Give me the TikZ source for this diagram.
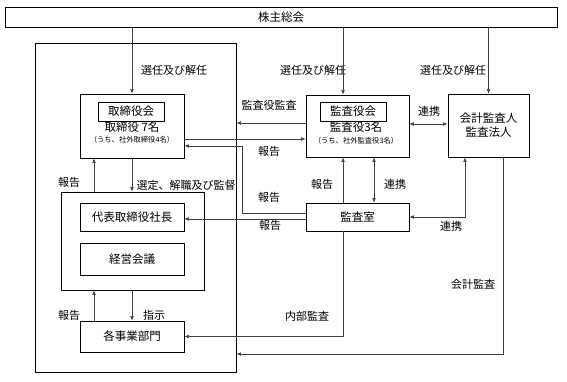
\documentclass[tikz,border=0pt]{standalone}
\usepackage{fontspec}
\setmainfont{Noto Sans CJK JP}
\usetikzlibrary{arrows.meta,positioning}

\begin{document}
\begin{tikzpicture}[
    x=1pt, y=-1pt,
    box/.style={draw, rectangle, line width=0.7pt, inner sep=0pt, align=center,
                font=\fontsize{11.5}{14}\selectfont},
    lbl/.style={inner sep=0pt, font=\fontsize{11}{12}\selectfont},
    small/.style={inner sep=0pt, font=\fontsize{7.3}{8}\selectfont},
    arrow/.style={-{Latex[length=1.6mm, width=1.3mm]}, line width=0.6pt, draw=black!75},
    both/.style={{Latex[length=1.6mm, width=1.3mm]}-{Latex[length=1.6mm, width=1.3mm]},
                 line width=0.6pt, draw=black!75}
]
\useasboundingbox (0,0) rectangle (567,381);

\node[box, minimum width=552pt, minimum height=20pt] (meeting) at (281,17) {株主総会};
\node[box, minimum width=201pt, minimum height=329pt] (corp) at (135.5,207.5) {};

\node[box, minimum width=104pt, minimum height=64pt] (board) at (132,126) {};
\node[box, minimum width=66pt, minimum height=19pt] (boardttl) at (131,111.5) {取締役会};
\node[lbl, font=\fontsize{11.5}{12}\selectfont] (boardnum) at (132,127) {取締役 7名};
\node[small] (boardout) at (132,140) {（うち、社外取締役4名）};

\node[box, minimum width=103pt, minimum height=62pt] (kansayaku) at (357.5,126) {};
\node[box, minimum width=66pt, minimum height=19pt] (kansattl) at (353,111.5) {監査役会};
\node[lbl, font=\fontsize{11.5}{12}\selectfont] (kansanum) at (356,127) {監査役3名};
\node[small] (kansaout) at (356,141) {（うち、社外監査役3名）};

\node[box, minimum width=81pt, minimum height=63pt] (auditor) at (488.5,125.5) {会計監査人\\監査法人};

\node[box, minimum width=143pt, minimum height=98pt] (execgrp) at (132.5,241) {};
\node[box, minimum width=104pt, minimum height=28pt] (president) at (132,217) {代表取締役社長};
\node[box, minimum width=104pt, minimum height=32pt] (keiei) at (132,259) {経営会議};
\node[box, minimum width=104pt, minimum height=31pt] (divisions) at (132,336.5) {各事業部門};
\node[box, minimum width=103pt, minimum height=28pt] (kansashitsu) at (357.5,217) {監査室};

\node[lbl] (lsel1) at (174,70) {選任及び解任};
\node[lbl] (lsel2) at (313,70) {選任及び解任};
\node[lbl] (lsel3) at (453,70) {選任及び解任};
\node[lbl] (laudit) at (269,105) {監査役監査};
\node[lbl] (lrep1) at (269,151) {報告};
\node[lbl] (lrep2) at (269,197) {報告};
\node[lbl] (lrep3) at (270,225) {報告};
\node[lbl] (lrep4) at (322,184) {報告};
\node[lbl] (lcoop1) at (395,184) {連携};
\node[lbl] (lcoop2) at (429,111) {連携};
\node[lbl] (lcoop3) at (451,226) {連携};
\node[lbl] (lacct) at (473,284) {会計監査};
\node[lbl] (linternal) at (307,316) {内部監査};
\node[lbl] (lrep5) at (69,182) {報告};
\node[lbl] (lsupervise) at (186,185) {選定、解職及び監督};
\node[lbl] (lrep6) at (69,315) {報告};
\node[lbl] (linstr) at (154,315) {指示};

% from the general meeting
\coordinate (kyin) at ([xshift=-14.5pt]kansayaku.north);
\draw[arrow] (board.north |- meeting.south) -- (board.north);
\draw[arrow] (kyin |- meeting.south) -- (kyin);
\draw[arrow] (auditor.north |- meeting.south) -- (auditor.north);

% audit lines
\coordinate (kyout) at ([yshift=3pt]kansayaku.west);
\coordinate (bdrep) at ([yshift=-13pt]board.east);
\coordinate (ksup) at ([yshift=4pt]kansashitsu.west);
\coordinate (kspres) at ([yshift=-2pt]kansashitsu.west);
\coordinate (kyaud) at ([yshift=2pt]kansayaku.east);
\draw[arrow] (kyout) -- (kyout -| corp.east);
\draw[arrow] (bdrep) -- (bdrep -| kansayaku.west);
\draw[arrow] (ksup) -- ++(-63,0) |- ([yshift=-20pt]board.east);
\draw[arrow] (kspres) -- (kspres -| president.east);
\draw[arrow] ([xshift=-14.5pt]kansashitsu.north) -- ([xshift=-14.5pt]kansayaku.south);
\draw[both] ([xshift=16.5pt]kansashitsu.north) -- ([xshift=16.5pt]kansayaku.south);
\draw[both] (kyaud) -- (kyaud -| auditor.west);
\draw[both] (kansashitsu.east) -| ([xshift=-23.5pt]auditor.south);
\draw[arrow] ([xshift=14.5pt]auditor.south) |- ([yshift=-146.5pt]corp.east);
\draw[arrow] ([xshift=-14.5pt]kansashitsu.south) |- (divisions.east);

% inside the company
\coordinate (exrep) at ([xshift=-38pt]board.south);
\coordinate (dvrep) at ([xshift=-38pt]divisions.north);
\draw[arrow] (exrep |- execgrp.north) -- (exrep);
\draw[arrow] (board.south) -- (board.south |- execgrp.north);
\draw[arrow] (dvrep) -- (dvrep |- execgrp.south);
\draw[arrow] (divisions.north |- execgrp.south) -- (divisions.north);
\end{tikzpicture}
\end{document}
